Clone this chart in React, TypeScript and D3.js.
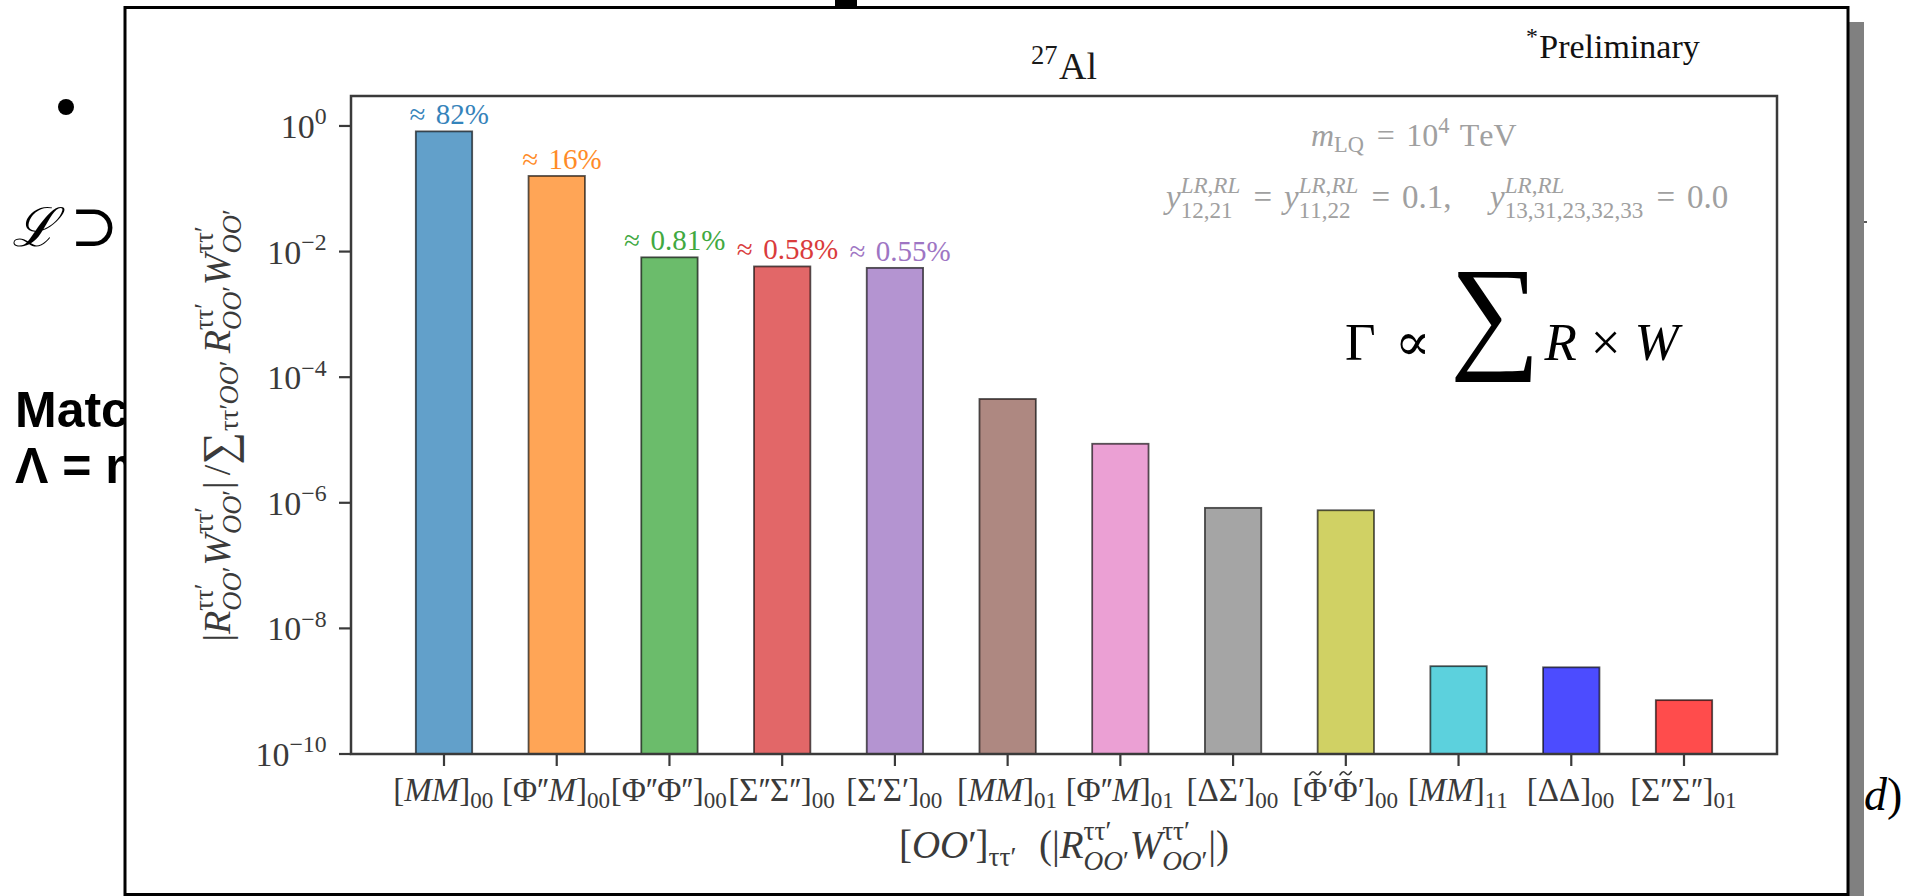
import React, { useEffect, useState } from 'react';
import * as d3 from 'd3';

// ---------------------------------------------------------------------------
// Data
// ---------------------------------------------------------------------------
const categories = [
  "[MM]_{00}",
  "[\\Phi''M]_{00}",
  "[\\Phi''\\Phi'']_{00}",
  "[\\Sigma''\\Sigma'']_{00}",
  "[\\Sigma'\\Sigma']_{00}",
  "[MM]_{01}",
  "[\\Phi''M]_{01}",
  "[\\Delta\\Sigma']_{00}",
  "[\\tilde{\\Phi}'\\tilde{\\Phi}']_{00}",
  "[MM]_{11}",
  "[\\Delta\\Delta]_{00}",
  "[\\Sigma''\\Sigma'']_{01}",
];

// |R W| / sum(R W) for each operator pair
const fractions = [0.82, 0.16, 0.0081, 0.0058, 0.0055, 4.5e-5, 8.7e-6, 8.3e-7, 7.6e-7, 2.5e-9, 2.4e-9, 7.2e-10];

const barColors = [
  '#1f77b4', '#ff7f0e', '#2ca02c', '#d62728', '#9467bd', '#8c564b',
  '#e377c2', '#7f7f7f', '#bcbd22', '#17becf', '#0000ff', '#ff0000',
];

// number of leading bars that carry a percentage label
const labelledBars = 5;

const yTickValues = [1, 1e-2, 1e-4, 1e-6, 1e-8, 1e-10];
const yTickLabels = ['10^{0}', '10^{-2}', '10^{-4}', '10^{-6}', '10^{-8}', '10^{-10}'];

const titleText = '^{27}\\mathrm{Al}';
const noteText = '^{*}\\mathrm{Preliminary}';
const xLabelText = "[OO']_{\\tau\\tau'}\\;\\;(|R^{\\tau\\tau'}_{OO'}W^{\\tau\\tau'}_{OO'}|)";
const yLabelText =
  "|R^{\\tau\\tau'}_{OO'}W^{\\tau\\tau'}_{OO'}|\\,/\\sum_{\\tau\\tau'OO'}\\,R^{\\tau\\tau'}_{OO'}W^{\\tau\\tau'}_{OO'}";
const paramLine1 = 'm_{\\mathrm{LQ}} = 10^{4}\\;\\mathrm{TeV}';
const paramLine2 =
  'y^{LR,RL}_{12,21} = y^{LR,RL}_{11,22} = 0.1,\\quad y^{LR,RL}_{13,31,23,32,33} = 0.0';
const rateFormula = '\\Gamma \\propto \\bigsum R \\times W';

// ---------------------------------------------------------------------------
// Layout
// ---------------------------------------------------------------------------
const W = 1906;
const H = 896;
const AX = { left: 351, right: 1777, top: 96, bottom: 754 };
const FONT = '"Liberation Serif", "DejaVu Serif", serif';
const SLIDE_FONT = '"Liberation Sans", Arial, sans-serif';

// ---------------------------------------------------------------------------
// Minimal TeX-like typesetter producing positioned text runs
// ---------------------------------------------------------------------------
type Run = { x: number; y: number; text: string; size: number; italic: boolean; accentWidth?: number };
type Box = { runs: Run[]; width: number };

let measureCtx: CanvasRenderingContext2D | null = null;
function textWidth(text: string, size: number, italic: boolean): number {
  if (!measureCtx) measureCtx = document.createElement('canvas').getContext('2d');
  measureCtx!.font = `${italic ? 'italic ' : ''}${size}px ${FONT}`;
  return measureCtx!.measureText(text).width;
}

const SYMBOLS: Record<string, [string, string]> = {
  Phi: ['Φ', 'ord'],
  Sigma: ['Σ', 'ord'],
  Delta: ['Δ', 'ord'],
  Gamma: ['Γ', 'ord'],
  tau: ['τ', 'ord'],
  propto: ['∝', 'rel'],
  approx: ['≈', 'rel'],
  times: ['×', 'bin'],
  sum: ['∑', 'op'],
  bigsum: ['∑', 'bigop'],
  '%': ['%', 'ord'],
};
const SPACES: Record<string, number> = { ',': 0.167, ':': 0.222, ';': 0.278, ' ': 0.33, quad: 1 };
const REL_SPACE = 0.36;
const BIN_SPACE = 0.26;

function matchBrace(s: string, i: number): number {
  let depth = 0;
  for (let j = i; j < s.length; j++) {
    if (s[j] === '{') depth++;
    else if (s[j] === '}') {
      depth--;
      if (depth === 0) return j;
    }
  }
  return s.length;
}

function readArg(s: string, i: number): [string, number] {
  while (s[i] === ' ') i++;
  if (s[i] === '{') {
    const j = matchBrace(s, i);
    return [s.slice(i + 1, j), j + 1];
  }
  if (s[i] === '\\') {
    let j = i + 1;
    if (/[a-zA-Z]/.test(s[j])) {
      while (j < s.length && /[a-zA-Z]/.test(s[j])) j++;
    } else j++;
    return [s.slice(i, j), j];
  }
  return [s[i], i + 1];
}

function typeset(s: string, sz: number, upright = false, script = false): Box {
  const runs: Run[] = [];
  let x = 0;
  let i = 0;
  const atom = (text: string, italic: boolean, size = sz, dy = 0) => {
    runs.push({ x, y: dy, text, size, italic });
    x += textWidth(text, size, italic);
  };
  const place = (b: Box, dx: number, dy: number) => {
    b.runs.forEach((r) => runs.push({ ...r, x: r.x + dx, y: r.y + dy }));
  };

  while (i < s.length) {
    const c = s[i];
    if (c === ' ') {
      i++;
      continue;
    }
    if (c === '{') {
      const j = matchBrace(s, i);
      const b = typeset(s.slice(i + 1, j), sz, upright, script);
      place(b, x, 0);
      x += b.width;
      i = j + 1;
      continue;
    }
    if (c === '^' || c === '_') {
      let sup: Box | null = null;
      let sub: Box | null = null;
      while (i < s.length) {
        while (s[i] === ' ') i++;
        if (s[i] !== '^' && s[i] !== '_') break;
        const kind = s[i];
        const [a, ni] = readArg(s, i + 1);
        i = ni;
        const b = typeset(a, sz * 0.7, upright, true);
        if (kind === '^') sup = b;
        else sub = b;
      }
      const supDy = -(sub ? 0.45 : 0.4) * sz;
      const subDy = (sup ? 0.3 : 0.2) * sz;
      if (sup) place(sup, x, supDy);
      if (sub) place(sub, x, subDy);
      x += Math.max(sup ? sup.width : 0, sub ? sub.width : 0) + (script ? 0 : 0.04 * sz);
      continue;
    }
    if (c === "'") {
      // primes sit close together, as in TeX
      atom('′', false);
      x -= 0.06 * sz;
      i++;
      if (s[i] !== "'") x += 0.03 * sz;
      continue;
    }
    if (c === '\\') {
      i++;
      let name = '';
      if (/[a-zA-Z]/.test(s[i])) {
        while (i < s.length && /[a-zA-Z]/.test(s[i])) name += s[i++];
      } else name = s[i++];
      if (name in SPACES) {
        x += SPACES[name] * sz;
        continue;
      }
      if (name === 'mathrm') {
        const [a, ni] = readArg(s, i);
        i = ni;
        const b = typeset(a, sz, true, script);
        place(b, x, 0);
        x += b.width;
        continue;
      }
      if (name === 'tilde') {
        const [a, ni] = readArg(s, i);
        i = ni;
        const b = typeset(a, sz, upright, script);
        place(b, x, 0);
        // accent drawn as a small stroked curve centred over the base
        runs.push({ x: x + b.width / 2, y: -0.84 * sz, text: '', size: sz, italic: false, accentWidth: 0.34 * sz });
        x += b.width;
        continue;
      }
      const sym = SYMBOLS[name];
      if (sym) {
        const [g, cls] = sym;
        if (cls === 'rel' && !script) {
          x += REL_SPACE * sz;
          atom(g, false);
          x += REL_SPACE * sz;
        } else if (cls === 'bin' && !script) {
          x += BIN_SPACE * sz;
          atom(g, false);
          x += BIN_SPACE * sz;
        } else if (cls === 'bigop') {
          atom(g, false, sz * 2.4, -0.1 * sz);
          x += 0.08 * sz;
        } else if (cls === 'op') {
          atom(g, false, sz * 1.2, 0.1 * sz);
          x += 0.03 * sz;
        } else atom(g, false);
        continue;
      }
      atom(name, false);
      continue;
    }
    if (c === '=') {
      if (!script) x += REL_SPACE * sz;
      atom('=', false);
      if (!script) x += REL_SPACE * sz;
      i++;
      continue;
    }
    if (c === '-') {
      atom('−', false);
      i++;
      continue;
    }
    if (c === ',') {
      atom(',', false);
      if (!script) x += 0.167 * sz;
      i++;
      continue;
    }
    atom(c, /[a-zA-Z]/.test(c) && !upright);
    i++;
  }
  return { runs, width: x };
}

type MathProps = {
  src: string;
  size: number;
  x: number;
  y: number;
  anchor?: 'start' | 'middle' | 'end';
  fill?: string;
  opacity?: number;
  transform?: string;
};

function MathText({ src, size, x, y, anchor = 'start', fill = '#000', opacity = 1, transform }: MathProps) {
  const box = typeset(src, size);
  const off = anchor === 'middle' ? -box.width / 2 : anchor === 'end' ? -box.width : 0;
  return (
    <g transform={transform} fill={fill} opacity={opacity}>
      {box.runs.map((r, k) => {
        if (r.accentWidth) {
          const cx = x + off + r.x;
          const cy = y + r.y;
          const w = r.accentWidth;
          const a = 0.045 * r.size;
          const d = `M${cx - w / 2},${cy + a} C${cx - w / 4},${cy - 2 * a} ${cx - w / 8},${cy - a} ${cx},${cy}` +
            ` S${cx + w / 4},${cy + 2 * a} ${cx + w / 2},${cy - a}`;
          return <path key={k} d={d} fill="none" stroke={fill} strokeWidth={0.05 * r.size} strokeLinecap="round" />;
        }
        return (
          <text
            key={k}
            x={x + off + r.x}
            y={y + r.y}
            fontSize={r.size}
            fontStyle={r.italic ? 'italic' : 'normal'}
            fontFamily={FONT}
          >
            {r.text}
          </text>
        );
      })}
    </g>
  );
}

// ---------------------------------------------------------------------------
// Chart
// ---------------------------------------------------------------------------
export default function App() {
  const [, setFontsReady] = useState(0);
  useEffect(() => {
    if (document.fonts && document.fonts.ready) {
      document.fonts.ready.then(() => setFontsReady((v) => v + 1));
    }
  }, []);

  const n = categories.length;
  const pad = 0.05 * (n - 1 + 0.5);
  const x = d3
    .scaleLinear()
    .domain([-0.25 - pad, n - 1 + 0.25 + pad])
    .range([AX.left, AX.right]);
  const y = d3.scaleLog().domain([1e-10, 3]).range([AX.bottom, AX.top]);
  const barW = x(0.5) - x(0);

  const spine = '#3a3a3a';
  const tickText = '#3a3a3a';

  return (
    <svg
      width={W}
      height={H}
      viewBox={`0 0 ${W} ${H}`}
      style={{ position: 'absolute', left: 0, top: 0, display: 'block', background: '#fff' }}
    >
      {/* slide content behind the figure */}
      <circle cx={66} cy={107} r={8} fill="#000" />
      <text x={12} y={246} fontSize={54} fontFamily={FONT} fontStyle="italic" fill="#000">
        ℒ
      </text>
      <text x={70} y={246} fontSize={58} fontFamily={FONT} fill="#000">
        ⊃
      </text>
      <text x={15} y={427} fontSize={50} fontFamily={SLIDE_FONT} fontWeight={700} fill="#000">
        Matching
      </text>
      <text x={15} y={483} fontSize={50} fontFamily={SLIDE_FONT} fontWeight={700} fill="#000">
        Λ = m
      </text>
      <text x={1864} y={810} fontSize={46} fontFamily={FONT} fill="#000">
        <tspan fontStyle="italic">d</tspan>)
      </text>
      <rect x={835} y={0} width={22} height={10} fill="#000" />
      <line x1={1863} x2={1867} y1={222} y2={222} stroke="#222" strokeWidth={1.5} />

      {/* figure panel */}
      <rect x={1849} y={22} width={15} height={H - 22} fill="#808080" />
      <rect x={125} y={7.5} width={1723} height={887} fill="#fff" stroke="#000" strokeWidth={3} />

      {/* title and note */}
      <MathText src={titleText} size={38} x={(AX.left + AX.right) / 2} y={79} anchor="middle" fill="#1a1a1a" />
      <MathText src={noteText} size={34} x={1526} y={58} fill="#111" />

      {/* bars */}
      {fractions.map((v, k) => (
        <rect
          key={k}
          x={x(k) - barW / 2}
          y={y(v)}
          width={barW}
          height={AX.bottom - y(v)}
          fill={barColors[k]}
          fillOpacity={0.7}
          stroke="#000"
          strokeOpacity={0.65}
          strokeWidth={1.8}
        />
      ))}

      {/* percentage labels */}
      {fractions.slice(0, labelledBars).map((v, k) => (
        <MathText
          key={k}
          src={`\\approx ${d3.format('.2~r')(v * 100)}\\%`}
          size={29}
          x={x(k)}
          y={y(v) - 7}
          anchor="middle"
          fill={barColors[k]}
          opacity={0.9}
        />
      ))}

      {/* parameter annotations */}
      <MathText src={paramLine1} size={32} x={1311} y={146} fill="#a0a0a0" />
      <MathText src={paramLine2} size={33} x={1166} y={208} fill="#a0a0a0" />
      <MathText src={rateFormula} size={53} x={1345} y={360} fill="#000" />

      {/* axes frame */}
      <rect
        x={AX.left}
        y={AX.top}
        width={AX.right - AX.left}
        height={AX.bottom - AX.top}
        fill="none"
        stroke={spine}
        strokeWidth={2.5}
      />

      {/* y ticks */}
      {yTickValues.map((v, k) => (
        <g key={k}>
          <line x1={AX.left - 12} x2={AX.left} y1={y(v)} y2={y(v)} stroke={spine} strokeWidth={2.2} />
          <MathText src={yTickLabels[k]} size={34} x={328} y={y(v) + 12} anchor="end" fill={tickText} />
        </g>
      ))}

      {/* x ticks */}
      {categories.map((c, k) => (
        <g key={k}>
          <line x1={x(k)} x2={x(k)} y1={AX.bottom} y2={AX.bottom + 12} stroke={spine} strokeWidth={2.2} />
          <MathText src={c} size={33} x={x(k)} y={801} anchor="middle" fill={tickText} />
        </g>
      ))}

      {/* axis labels */}
      <MathText src={xLabelText} size={39} x={(AX.left + AX.right) / 2} y={858} anchor="middle" fill={tickText} />
      <MathText
        src={yLabelText}
        size={38}
        x={0}
        y={0}
        anchor="middle"
        fill={tickText}
        transform={`translate(230, ${(AX.top + AX.bottom) / 2}) rotate(-90)`}
      />
    </svg>
  );
}
